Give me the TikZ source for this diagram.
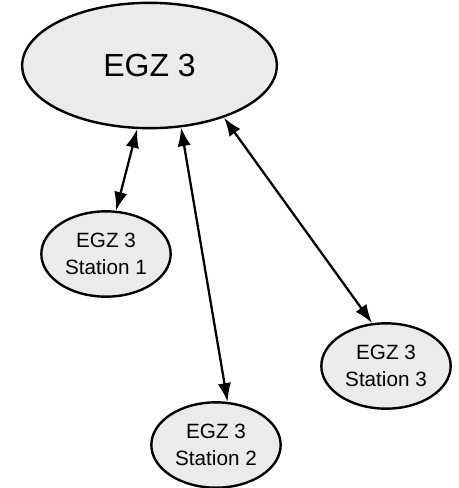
\documentclass[tikz,border=0pt]{standalone}
\usepackage{fontspec}
\setmainfont{Liberation Sans}
\usetikzlibrary{shapes.geometric}
\usetikzlibrary{arrows.meta}
\tikzset{
    every picture/.style={x=0.75pt,y=-0.75pt},
    site/.style={ellipse, draw=black, line width=1.8pt, fill=gray!16,
          inner sep=0pt, align=center},
    link/.style={line width=1.7pt,
          {Latex[length=14pt,width=10pt]}-{Latex[length=14pt,width=10pt]}},
}

\begin{document}
\begin{tikzpicture}[big/.style={site,
                                minimum width=191pt,
                                minimum height=94pt,
                                font=\fontsize{24}{29}\selectfont},
                        small/.style={site,
                                minimum width=97pt,
                                minimum height=64pt,
                                font=\fontsize{15.5}{20}\selectfont}]
        \useasboundingbox (0,0) rectangle (459,488);
        \node[big] (egz) at (149.5,65.5) {EGZ 3};
        \node[small] (st1) at (106,254) {EGZ 3\\Station 1};
        \node[small] (st2) at (216,445) {EGZ 3\\Station 2};
        \node[small] (st3) at (386,366) {EGZ 3\\Station 3};
        \draw[link] (egz.-101) -- (st1.77);
        \draw[link] (egz.-63) -- (st2.75);
        \draw[link] (egz.-35) -- (st3.108);
    \end{tikzpicture}
\end{document}
